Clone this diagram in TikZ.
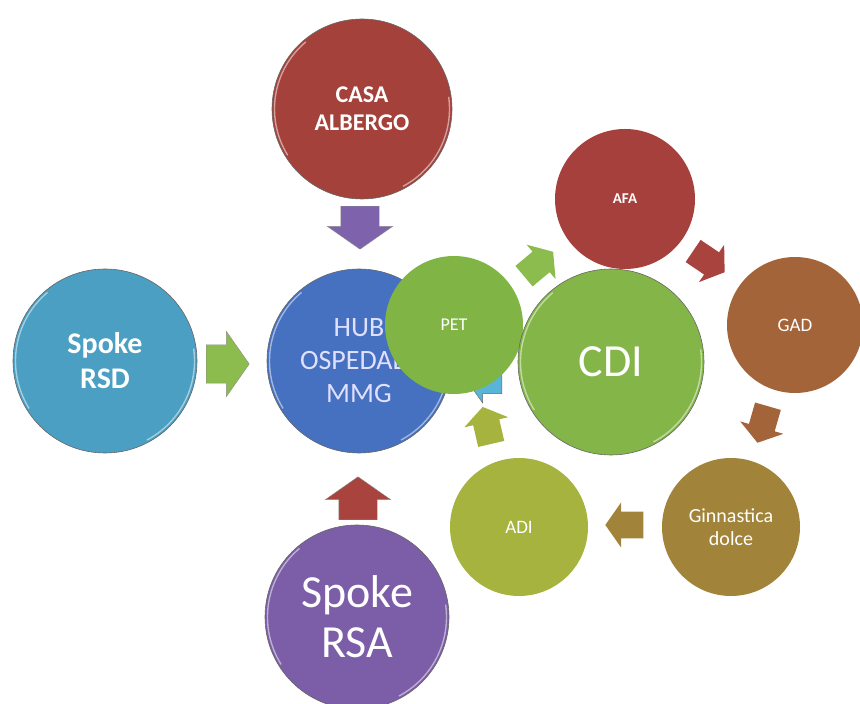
\documentclass[tikz,border=0pt]{standalone}
\usepackage{fontspec}
\setmainfont{Carlito}
\usetikzlibrary{shapes.arrows, calc}
\definecolor{casared}{HTML}{A5413B}
\definecolor{rsdblue}{HTML}{4A9FC2}
\definecolor{hubblue}{HTML}{4670C0}
\definecolor{rsapurple}{HTML}{7C5DA8}
\definecolor{petgreen}{HTML}{80B545}
\definecolor{cdigreen}{HTML}{84B548}
\definecolor{afared}{HTML}{A5403C}
\definecolor{gadbrown}{HTML}{A4643A}
\definecolor{ginnolive}{HTML}{A1843A}
\definecolor{adiyellow}{HTML}{A6B33F}
\definecolor{arrowpurple}{HTML}{7E62AB}
\definecolor{arrowgreen}{HTML}{8CBB4E}
\definecolor{arrowred}{HTML}{A8433E}
\definecolor{arrowblue}{HTML}{59B4D9}

\tikzset{
  ball/.style={circle, inner sep=0pt, text=white, align=center},
  bigball/.style={ball, draw=black!60, line width=0.6pt,
    path picture={
      \draw[white, opacity=.5, line width=1.4pt]
        let \p1=(path picture bounding box.center), \p2=(path picture bounding box.east),
            \n1={\x2-\x1-2.5pt}
        in ($(\p1)+(130:\n1)$) arc[start angle=130, end angle=212, radius=\n1]
           ($(\p1)+(-62:\n1)$) arc[start angle=-62, end angle=8, radius=\n1];
    }},
  hubarrow/.style={single arrow, draw=black!45, line width=0.4pt,
    minimum height=43pt, minimum width=65pt, inner xsep=0pt, inner ysep=19pt,
    single arrow head extend=13.5pt, single arrow tip angle=110},
  cyclearrow/.style={single arrow, minimum height=38pt, minimum width=45pt,
    inner xsep=0pt, inner ysep=13pt, single arrow head extend=9pt,
    single arrow tip angle=110}
}

\begin{document}
\begin{tikzpicture}[x=1pt, y=1pt]
  \useasboundingbox (0,0) rectangle (860,704);
  \clip (0,0) rectangle (860,704);

  % hub and spokes
  \node[bigball, fill=casared, minimum size=180pt, font=\fontsize{24}{28}\selectfont\bfseries]
    (casa) at (362,595) {CASA\\ALBERGO};
  \node[bigball, fill=rsdblue, minimum size=184pt, font=\fontsize{30}{35}\selectfont\bfseries]
    (rsd) at (105,343) {Spoke\\RSD};
  \node[bigball, fill=hubblue, minimum size=184pt, text=blue!12!white, font=\fontsize{28}{33}\selectfont]
    (hub) at (359,343) {HUB\\OSPEDALE\\MMG};
  \node[bigball, fill=rsapurple, minimum size=184pt, font=\fontsize{46}{50}\selectfont]
    (rsa) at (357,87) {Spoke\\RSA};

  \node[hubarrow, fill=arrowpurple, rotate=-90] (casatohub) at (360,483) {};
  \node[hubarrow, fill=arrowgreen] (rsdtohub) at (221,340) {};
  \node[hubarrow, fill=arrowred, rotate=90] (rsatohub) at (358,199) {};

  % CDI cycle
  \node[cyclearrow, fill=arrowblue, draw=black!60, line width=0.4pt, rotate=180,
    minimum height=34pt, minimum width=42pt, inner ysep=11pt]
    (cditohub) at (489,322) {};
  \node[ball, fill=petgreen, minimum size=138pt, font=\fontsize{18}{22}\selectfont]
    (pet) at (454,379) {PET};
  \node[bigball, fill=cdigreen, minimum size=186pt, font=\fontsize{46}{50}\selectfont]
    (cdi) at (611,342) {CDI};
  \node[ball, fill=afared, minimum size=140pt, font=\fontsize{15}{18}\selectfont\bfseries]
    (afa) at (625,505) {AFA};
  \node[ball, fill=gadbrown, minimum size=136pt, font=\fontsize{19}{22}\selectfont]
    (gad) at (795,379) {GAD};
  \node[ball, fill=ginnolive, minimum size=138pt, font=\fontsize{20}{23}\selectfont]
    (ginn) at (731,177) {Ginnastica\\dolce};
  \node[ball, fill=adiyellow, minimum size=138pt, font=\fontsize{19}{22}\selectfont]
    (adi) at (519,177) {ADI};

  \node[cyclearrow, fill=arrowgreen, rotate=40] (pettoafa) at (535,437) {};
  \node[cyclearrow, fill=arrowred, rotate=-34] (afatogad) at (705,445) {};
  \node[cyclearrow, fill=gadbrown, rotate=-106] (gadtoginn) at (764,284) {};
  \node[cyclearrow, fill=ginnolive, rotate=180] (ginntoadi) at (629,179) {};
  \node[cyclearrow, fill=adiyellow, rotate=103] (aditopet) at (488,274) {};
\end{tikzpicture}
\end{document}
